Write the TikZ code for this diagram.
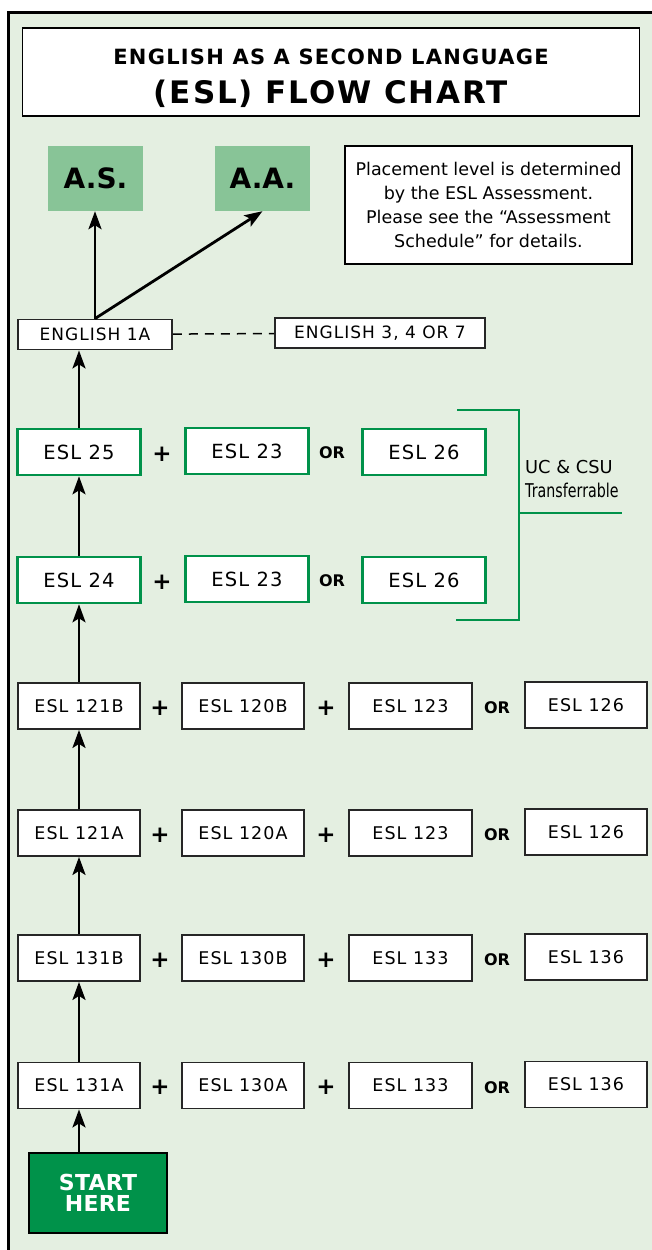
\documentclass[tikz,border=0pt]{standalone}
\usepackage{fontspec}
\setmainfont{DejaVu Sans}[LetterSpace=6]
\newfontfamily\notefont{DejaVu Sans}
\newfontfamily\narrowfont{DejaVu Sans}[FakeStretch=0.75]
\usetikzlibrary{arrows.meta}
\definecolor{bggreen}{RGB}{228,239,225}
\definecolor{lightgreen}{RGB}{136,196,151}
\definecolor{darkgreen}{RGB}{0,146,74}
\newcommand{\fsz}[2]{\fontsize{#1}{#2}\selectfont}
\begin{document}
\begin{tikzpicture}[x=1pt,y=-1pt,
		box/.style={draw=black!85,fill=white,line width=1.8,minimum width=122,minimum height=46,inner sep=0,font=\fsz{17.5}{21}},
		gbox/.style={box,draw=darkgreen,line width=2.6,minimum width=123,font=\fsz{19.5}{23}},
		sign/.style={inner sep=0,font=\bfseries\fsz{23}{26}},
		orword/.style={inner sep=0,font=\bfseries\fsz{16}{19}\addfontfeatures{LetterSpace=0}},
		arr/.style={line width=2.8,-{Stealth[length=18pt,width=13pt,inset=4pt]}}]
	\useasboundingbox (0,0) rectangle (652,1250);
	\fill[white] (0,0) rectangle (652,1250);
	\draw[line width=3,fill=bggreen] (8,12) rectangle (680,1280);
	\node[draw,fill=white,line width=1.8,minimum width=617,minimum height=88] (title) at (331,72) {};
	\node[anchor=base,font=\bfseries\fsz{21}{24}] (t1) at (331,64.5) {ENGLISH AS A SECOND LANGUAGE};
	\node[anchor=base,font=\bfseries\fsz{31}{36}] (t2) at (331,103) {(ESL) FLOW CHART};
	\node[fill=lightgreen,minimum width=95,minimum height=65,font=\bfseries\fsz{28}{30}\addfontfeatures{LetterSpace=0}] (as) at (95.5,178.5) {A.S.};
	\node[fill=lightgreen,minimum width=95,minimum height=65,font=\bfseries\fsz{28}{30}\addfontfeatures{LetterSpace=0}] (aa) at (262.5,178.5) {A.A.};
	\node[draw,fill=white,line width=1.8,minimum width=287,minimum height=118,align=center,font=\notefont\fsz{17.5}{24}] (note) at (488.5,205) {Placement level is determined\\by the ESL Assessment.\\Please see the “Assessment\\Schedule” for details.};
	\node[box,minimum width=154,minimum height=30,font=\fsz{17}{20}] (eng1a) at (95,334.5) {ENGLISH 1A};
	\node[box,minimum width=210,minimum height=30,font=\fsz{17}{20}] (eng3) at (380,333) {ENGLISH 3, 4 OR 7};
	\draw[line width=1.5,dash pattern=on 9pt off 7pt] (eng1a) -- (eng3);
	\foreach \y/\c in {452/25,580/24}{
		\node[gbox] (g\c) at (79,\y) {ESL \c};
		\node[sign] (g\c-p) at (162,\y+2) {+};
		\node[gbox] (g\c-b) at (247,\y-1) {ESL 23};
		\node[orword] (g\c-or) at (332,\y+1) {OR};
		\node[gbox] (g\c-c) at (424,\y) {ESL 26};
	}
	\draw[darkgreen,line width=2.6] (457,410) -- (519,410) -- (519,620) -- (456,620) (519,513) -- (622,513);
	\node[anchor=base west,inner sep=0,font=\notefont\fsz{17.8}{20}] (uc) at (525,473) {UC \& CSU};
	\node[anchor=base west,inner sep=0,font=\narrowfont\fsz{19}{22}] (tr) at (525,497.5) {Transferrable};
	\foreach \y/\a/\b/\c/\d [count=\i] in {1085.5/131A/130A/133/136,958/131B/130B/133/136,833/121A/120A/123/126,706/121B/120B/123/126}{
		\node[box] (r\i) at (79,\y) {ESL \a};
		\node[sign] (r\i-p1) at (160,\y+2) {+};
		\node[box] (r\i-b) at (243,\y) {ESL \b};
		\node[sign] (r\i-p2) at (326,\y+2) {+};
		\node[box,minimum width=123] (r\i-c) at (410.5,\y) {ESL \c};
		\node[orword] (r\i-or) at (497,\y+2) {OR};
		\node[box] (r\i-d) at (586,\y-1) {ESL \d};
	}
	\node[draw,fill=darkgreen,line width=1.8,minimum width=138,minimum height=80,inner sep=0,text=white,align=center,font=\bfseries\fsz{22}{21}\addfontfeatures{LetterSpace=1}] (start) at (98,1193) {START\\HERE};
	\draw[arr] (start.north -| r1.south) -- (r1.south);
	\foreach \i [evaluate=\i as \j using int(\i+1)] in {1,2,3}
		\draw[arr] (r\i) -- (r\j);
	\draw[arr] (r4) -- (g24);
	\draw[arr] (g24) -- (g25);
	\draw[arr] (g25.north) -- (g25.north |- eng1a.south);
	\draw[arr] (eng1a.north) -- (eng1a.north |- as.south);
	\draw[arr] (eng1a.north) -- (aa.south);
\end{tikzpicture}
\end{document}
